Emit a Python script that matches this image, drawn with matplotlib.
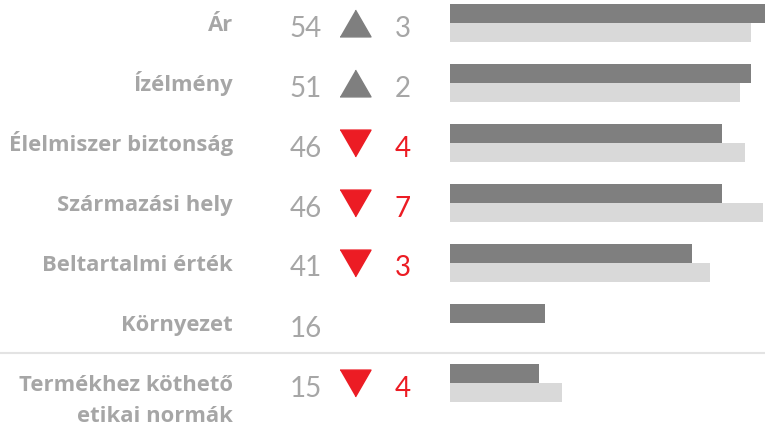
import matplotlib
matplotlib.use("Agg")
import matplotlib.pyplot as plt
import numpy as np

categories = ["Ár", "Ízélmény", "Élelmiszer biztonság", "Származási hely",
              "Beltartalmi érték", "Környezet", "Termékhez köthető\netikai normák"]
current = [54, 51, 46, 46, 41, 16, 15]
previous = [51, 49, 50, 53, 44, None, 19]
change = [3, 2, -4, -7, -3, None, -4]

GRAY_TXT = "#a6a6a6"
DARK = "#7f7f7f"
LIGHT = "#d9d9d9"
RED = "#ec1c24"

W, H = 765, 444
fig = plt.figure(figsize=(W / 100, H / 100), dpi=100)
plt.rcParams['font.family'] = ['Lato', 'DejaVu Sans']

# row coords: px_from_top = 23 + 60*row
ytop = -23 / 60
ybot = (H - 23) / 60

ov = fig.add_axes([0, 0, 1, 1])
ov.set_xlim(0, W)
ov.set_ylim(ybot, ytop)
ov.axis("off")

bx = fig.add_axes([450 / W, 0, 315 / W, 1])
bx.set_xlim(0, 53.3)
bx.set_ylim(ybot, ytop)
bx.axis("off")

n = len(categories)
rows = np.arange(n)
bh = 19 / 60
bx.barh(rows - bh / 2, current, height=bh, color=DARK, linewidth=0)
prev_rows = [r for r, p in zip(rows, previous) if p is not None]
prev_vals = [p for p in previous if p is not None]
bx.barh(np.array(prev_rows) + bh / 2, prev_vals, height=bh, color=LIGHT, linewidth=0)

ov.axhline(5.5, color="#e3e3e3", linewidth=1.5, zorder=0)

tri = [(-1, -0.866), (1, -0.866), (0, 0.866)]
tri_d = [(-1, 0.866), (1, 0.866), (0, -0.866)]

lab_off = 7.5 / 60
num_off = 13.5 / 60
for i, (cat, cur, ch) in enumerate(zip(categories, current, change)):
    for k, line in enumerate(cat.split("\n")):
        ov.text(233, i + lab_off + k * 31 / 60, line, ha="right", va="baseline",
                fontsize=15.8, fontweight="bold", color=GRAY_TXT,
                family=["Open Sans", "DejaVu Sans"])
    ov.text(322, i + num_off, str(cur), ha="right", va="baseline", fontsize=20,
            color=GRAY_TXT)
    if ch is not None:
        up = ch > 0
        ov.plot([355.5], [i], marker=tri if up else tri_d, markersize=22.3,
                color=DARK if up else RED, linestyle="none")
        ov.text(402.5, i + num_off, str(abs(ch)), ha="center", va="baseline",
                fontsize=20, color=GRAY_TXT if up else RED)

fig.savefig("out.png", dpi=100)
